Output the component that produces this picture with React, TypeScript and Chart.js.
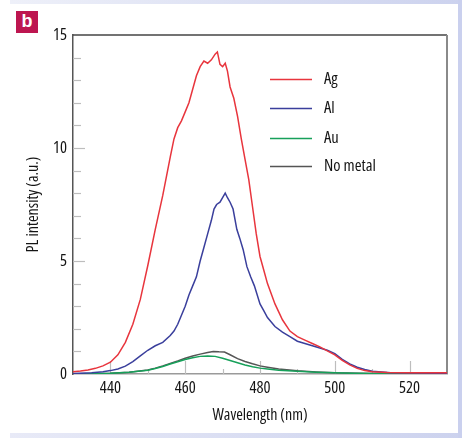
import React, { useEffect, useRef } from "react";
import { Chart, registerables } from "chart.js";
Chart.register(...registerables);

const seriesLabels = ["Ag", "Al", "Au", "No metal"];
const seriesColors = ["#e8353d", "#3a3f9c", "#17a05a", "#555555"];

const agWl = [430,432,434,436,438,440,442,444,446,448,450,452,454,456,457,458,459,460,461,462,463,464,465,466,467,468,468.6,469.3,470,470.7,471.3,472,473,474,475,476,477,478,479,480,481,482,484,486,488,490,492,494,496,498,500,502,504,506,508,510,514,520,525,530];
const agI = [0.1,0.13,0.18,0.25,0.36,0.52,0.85,1.4,2.2,3.3,4.8,6.4,7.9,9.6,10.4,10.9,11.2,11.6,12.0,12.6,13.2,13.6,13.85,13.75,13.9,14.15,14.25,13.7,13.6,13.75,13.4,12.7,12.2,11.4,10.4,9.5,8.6,7.4,6.2,5.2,4.6,4.0,3.1,2.4,1.9,1.65,1.5,1.35,1.2,1.02,0.85,0.6,0.4,0.25,0.15,0.1,0.07,0.05,0.05,0.05];

const alWl = [430,435,438,440,442,444,446,448,450,452,454,456,457,458,459,460,461,462,463,464,465,466,467,467.7,468.4,469.3,470,470.7,471.3,472,472.8,473.8,474.6,475.5,476.5,477.5,478.5,480,481,482,484,486,488,490,492,494,496,498,500,502,504,506,508,510,515,520,530];
const alI = [0.02,0.05,0.1,0.15,0.22,0.35,0.55,0.8,1.05,1.25,1.4,1.7,1.9,2.2,2.6,3.0,3.5,3.9,4.3,5.0,5.6,6.2,6.8,7.3,7.5,7.6,7.8,8.0,7.8,7.6,7.3,6.4,6.0,5.5,4.75,4.3,3.9,3.1,2.8,2.5,2.1,1.85,1.65,1.45,1.35,1.25,1.15,1.05,0.9,0.65,0.45,0.3,0.2,0.12,0.06,0.04,0.03];

const auWl = [430,435,440,445,450,452,454,456,458,460,462,464,466,468,470,472,474,476,478,480,482,485,490,495,500,505,510,520,530];
const auI = [0,0.01,0.03,0.08,0.17,0.24,0.33,0.44,0.54,0.64,0.72,0.78,0.8,0.78,0.7,0.6,0.5,0.4,0.32,0.26,0.22,0.17,0.12,0.08,0.05,0.03,0.02,0.01,0];

const nmWl = [430,440,445,450,452,454,456,458,460,462,464,466,467.5,469,470.5,472,474,476,478,480,482,485,490,495,500,510,520,530];
const nmI = [0,0.03,0.08,0.18,0.26,0.36,0.47,0.58,0.7,0.8,0.88,0.95,1.0,0.98,0.97,0.85,0.68,0.55,0.45,0.36,0.3,0.22,0.14,0.09,0.05,0.02,0.01,0];

const xTicks = [440, 460, 480, 500, 520];
const yTicks = [0, 5, 10, 15];
const xMinorTicks = [450, 470, 490, 510];

const FAMILY = "'Open Sans', 'Liberation Sans', Arial, sans-serif";
const STRETCH = "semi-condensed";
const TEXT = "#151515";

const decor = {
  id: "decor",
  beforeDatasetsDraw(chart: any) {
    const { ctx, chartArea, scales } = chart;
    const { left, right, top, bottom } = chartArea;
    const x = scales.x, y = scales.y;
    ctx.save();
    ctx.strokeStyle = "#bdbdbd";
    ctx.lineWidth = 1.2;
    for (let v = 1; v < 15; v++) {
      const py = Math.round(y.getPixelForValue(v)) + 0.5;
      const len = v % 5 === 0 ? 12 : 8;
      ctx.beginPath();
      ctx.moveTo(left, py);
      ctx.lineTo(left + len, py);
      ctx.stroke();
    }
    for (const v of xTicks) {
      const px = Math.round(x.getPixelForValue(v)) + 0.5;
      ctx.beginPath();
      ctx.moveTo(px, bottom);
      ctx.lineTo(px, bottom - 13);
      ctx.stroke();
    }
    for (const v of xMinorTicks) {
      const px = Math.round(x.getPixelForValue(v)) + 0.5;
      ctx.beginPath();
      ctx.moveTo(px, bottom);
      ctx.lineTo(px, bottom - 5);
      ctx.stroke();
    }
    ctx.strokeStyle = "#444";
    ctx.lineWidth = 1.5;
    ctx.beginPath();
    ctx.moveTo(left, top);
    ctx.lineTo(right, top);
    ctx.stroke();
    ctx.strokeStyle = "#8a8a8a";
    ctx.lineWidth = 2;
    ctx.beginPath();
    ctx.moveTo(right, top);
    ctx.lineTo(right, bottom);
    ctx.stroke();
    ctx.restore();
  },
  afterDatasetsDraw(chart: any) {
    const { ctx } = chart;
    const rows = [79, 108, 138, 166];
    ctx.save();
    ctx.font = STRETCH + " 16.5px " + FAMILY;
    ctx.textBaseline = "middle";
    ctx.textAlign = "left";
    chart.data.datasets.forEach((ds: any, i: number) => {
      const yy = rows[i] + 0.5;
      ctx.strokeStyle = ds.borderColor;
      ctx.lineWidth = 1.5;
      ctx.beginPath();
      ctx.moveTo(270, yy);
      ctx.lineTo(312, yy);
      ctx.stroke();
      ctx.fillStyle = TEXT;
      ctx.fillText(ds.label, 324, yy);
    });
    ctx.restore();
  },
};

export default function App() {
  const ref = useRef<HTMLCanvasElement | null>(null);
  useEffect(() => {
    if (!ref.current) return;
    const mk = (wl: number[], v: number[]) => wl.map((w, i) => ({ x: w, y: v[i] }));
    const allData = [mk(agWl, agI), mk(alWl, alI), mk(auWl, auI), mk(nmWl, nmI)];
    const tickFont = { family: FAMILY, size: 16.5, weight: STRETCH };
    const titleFont = { family: FAMILY, size: 16, weight: STRETCH };
    const chart = new Chart(ref.current, {
      type: "line",
      data: {
        datasets: allData.map((d, i) => ({
          label: seriesLabels[i],
          data: d,
          borderColor: seriesColors[i],
          backgroundColor: seriesColors[i],
          borderWidth: 1.5,
          pointRadius: 0,
          tension: 0,
          fill: false,
        })),
      },
      options: {
        responsive: false,
        animation: false,
        layout: { padding: { left: 0, top: 35, right: 15, bottom: 0 } },
        plugins: { legend: { display: false }, tooltip: { enabled: false } },
        scales: {
          x: {
            type: "linear",
            min: 430,
            max: 530,
            afterBuildTicks: (s: any) => { s.ticks = xTicks.map((v) => ({ value: v })); },
            afterFit: (s: any) => { s.height = 64; },
            grid: { drawOnChartArea: false, drawTicks: false },
            border: { display: true, color: "#9a9a9a", width: 1.5 },
            ticks: { padding: 4, color: TEXT, font: tickFont, maxRotation: 0 },
            title: { display: true, text: "Wavelength (nm)", color: TEXT, font: titleFont, padding: { top: 0, bottom: 13 } },
          },
          y: {
            type: "linear",
            min: 0,
            max: 15,
            afterBuildTicks: (s: any) => { s.ticks = yTicks.map((v) => ({ value: v })); },
            afterFit: (s: any) => { s.width = 73; },
            grid: { drawOnChartArea: false, drawTicks: false },
            border: { display: true, color: "#555", width: 1.5 },
            ticks: { padding: 6, color: TEXT, font: tickFont },
            title: { display: true, text: "PL intensity (a.u.)", color: TEXT, font: titleFont, padding: { top: 24, bottom: 0 } },
          },
        },
      },
      plugins: [decor],
    } as any);
    return () => chart.destroy();
  }, []);

  return (
    <div style={{ position: "fixed", left: 0, top: 0, width: 462, height: 438, background: "#fff", overflow: "hidden" }}>
      <div style={{ position: "absolute", left: 10, top: 0, width: 452, height: 4, background: "linear-gradient(to right, #eef0f9, #ccd2ee)" }} />
      <div style={{ position: "absolute", left: 10, top: 433, width: 452, height: 5, background: "linear-gradient(to right, #e8eaf7, #ccd2ee)" }} />
      <div style={{ position: "absolute", left: 458, top: 0, width: 4, height: 438, background: "#cad0ee" }} />
      <div style={{ position: "absolute", left: 16, top: 11, width: 22, height: 22, background: "#bd1650", color: "#fff", fontFamily: "'Liberation Sans', Arial, sans-serif", fontWeight: "bold", fontSize: 18, lineHeight: "21px", textAlign: "center" }}>b</div>
      <canvas ref={ref} width={462} height={438} style={{ position: "absolute", left: 0, top: 0, width: 462, height: 438 }} />
    </div>
  );
}
